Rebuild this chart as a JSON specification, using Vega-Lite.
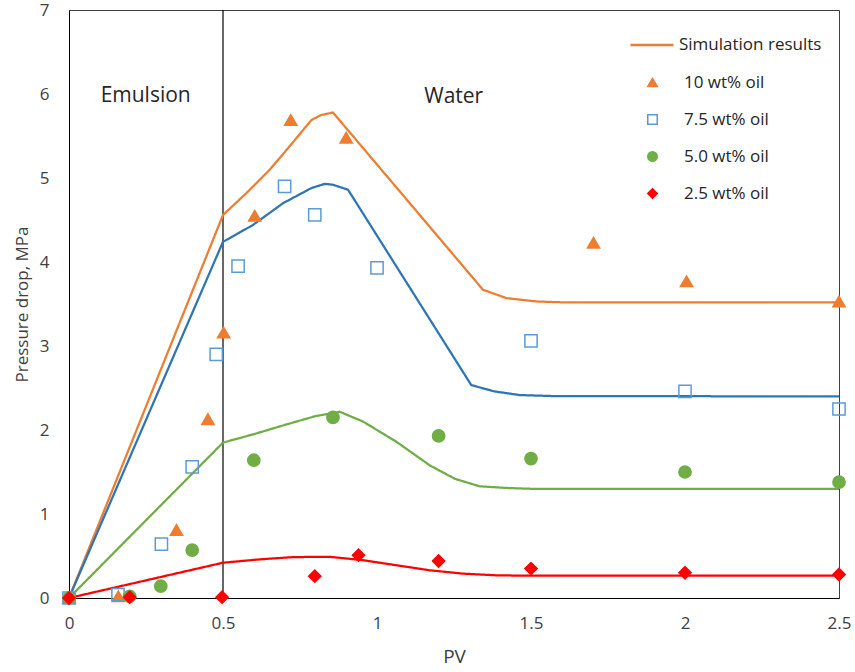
{
  "$schema": "https://vega.github.io/schema/vega-lite/v6.json",
  "width": 770,
  "height": 588,
  "autosize": "none",
  "padding": {"left": 69, "top": 10, "right": 16, "bottom": 74},
  "config": {
    "view": {"stroke": "#404040", "strokeWidth": 1},
    "font": "Open Sans",
    "axis": {
      "grid": false,
      "ticks": false,
      "tickSize": 0,
      "domainColor": "#000000",
      "domainWidth": 1,
      "labelFont": "Open Sans",
      "labelFontSize": 17,
      "labelColor": "#404040",
      "labelFlush": false,
      "titleFont": "Open Sans",
      "titleFontSize": 17,
      "titleFontWeight": "normal",
      "titleColor": "#404040"
    },
    "legend": {
      "labelFont": "Open Sans",
      "labelFontSize": 17,
      "labelColor": "#262626",
      "labelLimit": 400,
      "padding": 0
    }
  },
  "datasets": {
    "sim": [
      {"curve": "10", "PV": 0, "P": 0},
      {"curve": "10", "PV": 0.5, "P": 4.56},
      {"curve": "10", "PV": 0.576, "P": 4.82},
      {"curve": "10", "PV": 0.652, "P": 5.1},
      {"curve": "10", "PV": 0.717, "P": 5.38},
      {"curve": "10", "PV": 0.787, "P": 5.69},
      {"curve": "10", "PV": 0.819, "P": 5.75},
      {"curve": "10", "PV": 0.857, "P": 5.78},
      {"curve": "10", "PV": 1.171, "P": 4.42},
      {"curve": "10", "PV": 1.344, "P": 3.67},
      {"curve": "10", "PV": 1.42, "P": 3.57},
      {"curve": "10", "PV": 1.518, "P": 3.53},
      {"curve": "10", "PV": 1.6, "P": 3.52},
      {"curve": "10", "PV": 2.5, "P": 3.52},
      {"curve": "7.5", "PV": 0, "P": 0},
      {"curve": "7.5", "PV": 0.5, "P": 4.24},
      {"curve": "7.5", "PV": 0.597, "P": 4.44},
      {"curve": "7.5", "PV": 0.695, "P": 4.7},
      {"curve": "7.5", "PV": 0.787, "P": 4.88},
      {"curve": "7.5", "PV": 0.83, "P": 4.93},
      {"curve": "7.5", "PV": 0.857, "P": 4.92},
      {"curve": "7.5", "PV": 0.906, "P": 4.86},
      {"curve": "7.5", "PV": 1.306, "P": 2.535},
      {"curve": "7.5", "PV": 1.38, "P": 2.46},
      {"curve": "7.5", "PV": 1.463, "P": 2.416},
      {"curve": "7.5", "PV": 1.571, "P": 2.404},
      {"curve": "7.5", "PV": 2.5, "P": 2.4},
      {"curve": "5.0", "PV": 0, "P": 0},
      {"curve": "5.0", "PV": 0.5, "P": 1.85},
      {"curve": "5.0", "PV": 0.6, "P": 1.95},
      {"curve": "5.0", "PV": 0.7, "P": 2.06},
      {"curve": "5.0", "PV": 0.8, "P": 2.165},
      {"curve": "5.0", "PV": 0.879, "P": 2.217},
      {"curve": "5.0", "PV": 0.955, "P": 2.1},
      {"curve": "5.0", "PV": 1.063, "P": 1.86},
      {"curve": "5.0", "PV": 1.171, "P": 1.58},
      {"curve": "5.0", "PV": 1.252, "P": 1.42},
      {"curve": "5.0", "PV": 1.333, "P": 1.33},
      {"curve": "5.0", "PV": 1.42, "P": 1.31},
      {"curve": "5.0", "PV": 1.5, "P": 1.3},
      {"curve": "5.0", "PV": 2.5, "P": 1.3},
      {"curve": "2.5", "PV": 0, "P": 0},
      {"curve": "2.5", "PV": 0.5, "P": 0.42},
      {"curve": "2.5", "PV": 0.619, "P": 0.46},
      {"curve": "2.5", "PV": 0.72, "P": 0.485},
      {"curve": "2.5", "PV": 0.792, "P": 0.49},
      {"curve": "2.5", "PV": 0.847, "P": 0.49},
      {"curve": "2.5", "PV": 0.955, "P": 0.45},
      {"curve": "2.5", "PV": 1.063, "P": 0.39},
      {"curve": "2.5", "PV": 1.171, "P": 0.33},
      {"curve": "2.5", "PV": 1.279, "P": 0.29},
      {"curve": "2.5", "PV": 1.388, "P": 0.27},
      {"curve": "2.5", "PV": 1.5, "P": 0.265},
      {"curve": "2.5", "PV": 2.5, "P": 0.265}
    ],
    "exp": [
      {"series": "10 wt% oil", "PV": 0, "P": 0},
      {"series": "10 wt% oil", "PV": 0.16, "P": 0.02},
      {"series": "10 wt% oil", "PV": 0.349, "P": 0.81},
      {"series": "10 wt% oil", "PV": 0.451, "P": 2.13},
      {"series": "10 wt% oil", "PV": 0.502, "P": 3.16},
      {"series": "10 wt% oil", "PV": 0.603, "P": 4.55},
      {"series": "10 wt% oil", "PV": 0.72, "P": 5.69},
      {"series": "10 wt% oil", "PV": 0.9, "P": 5.48},
      {"series": "10 wt% oil", "PV": 1.703, "P": 4.23},
      {"series": "10 wt% oil", "PV": 2.005, "P": 3.77},
      {"series": "10 wt% oil", "PV": 2.5, "P": 3.53},
      {"series": "7.5 wt% oil", "PV": 0, "P": 0},
      {"series": "7.5 wt% oil", "PV": 0.159, "P": 0.04},
      {"series": "7.5 wt% oil", "PV": 0.3, "P": 0.64},
      {"series": "7.5 wt% oil", "PV": 0.4, "P": 1.56},
      {"series": "7.5 wt% oil", "PV": 0.478, "P": 2.9},
      {"series": "7.5 wt% oil", "PV": 0.549, "P": 3.95},
      {"series": "7.5 wt% oil", "PV": 0.7, "P": 4.9},
      {"series": "7.5 wt% oil", "PV": 0.798, "P": 4.56},
      {"series": "7.5 wt% oil", "PV": 1.0, "P": 3.93},
      {"series": "7.5 wt% oil", "PV": 1.5, "P": 3.06},
      {"series": "7.5 wt% oil", "PV": 2.0, "P": 2.46},
      {"series": "7.5 wt% oil", "PV": 2.5, "P": 2.25},
      {"series": "5.0 wt% oil", "PV": 0, "P": 0},
      {"series": "5.0 wt% oil", "PV": 0.197, "P": 0.02},
      {"series": "5.0 wt% oil", "PV": 0.298, "P": 0.14},
      {"series": "5.0 wt% oil", "PV": 0.4, "P": 0.57},
      {"series": "5.0 wt% oil", "PV": 0.6, "P": 1.64},
      {"series": "5.0 wt% oil", "PV": 0.857, "P": 2.15},
      {"series": "5.0 wt% oil", "PV": 1.2, "P": 1.93},
      {"series": "5.0 wt% oil", "PV": 1.5, "P": 1.66},
      {"series": "5.0 wt% oil", "PV": 2.0, "P": 1.5},
      {"series": "5.0 wt% oil", "PV": 2.5, "P": 1.38},
      {"series": "2.5 wt% oil", "PV": 0, "P": 0},
      {"series": "2.5 wt% oil", "PV": 0.197, "P": 0.01},
      {"series": "2.5 wt% oil", "PV": 0.497, "P": 0.01},
      {"series": "2.5 wt% oil", "PV": 0.798, "P": 0.26},
      {"series": "2.5 wt% oil", "PV": 0.94, "P": 0.51},
      {"series": "2.5 wt% oil", "PV": 1.2, "P": 0.44},
      {"series": "2.5 wt% oil", "PV": 1.5, "P": 0.35},
      {"series": "2.5 wt% oil", "PV": 2.0, "P": 0.3},
      {"series": "2.5 wt% oil", "PV": 2.5, "P": 0.28}
    ],
    "divider": [{"PV": 0.5}],
    "notes": [
      {"PV": 0.249, "P": 5.98, "label": "Emulsion"},
      {"PV": 1.249, "P": 5.97, "label": "Water"}
    ]
  },
  "layer": [
    {
      "data": {"name": "divider"},
      "mark": {"type": "rule", "color": "#000000", "strokeWidth": 1.2},
      "encoding": {
        "x": {"field": "PV", "type": "quantitative", "scale": {"domain": [0, 2.5]}}
      }
    },
    {
      "data": {"name": "notes"},
      "mark": {"type": "text", "font": "Open Sans", "fontSize": 21, "color": "#262626", "align": "center", "baseline": "middle"},
      "encoding": {
        "x": {"field": "PV", "type": "quantitative"},
        "y": {"field": "P", "type": "quantitative"},
        "text": {"field": "label"}
      }
    },
    {
      "data": {"name": "sim"},
      "transform": [{"calculate": "'Simulation results'", "as": "model"}],
      "mark": {"type": "line", "strokeWidth": 2.25, "interpolate": "linear", "clip": false},
      "encoding": {
        "x": {"field": "PV", "type": "quantitative"},
        "y": {"field": "P", "type": "quantitative"},
        "detail": {"field": "curve"},
        "color": {
          "field": "curve", "type": "nominal",
          "scale": {"domain": ["10", "7.5", "5.0", "2.5"], "range": ["#ED7D31", "#2E75B6", "#70AD47", "#FF0000"]},
          "legend": null
        },
        "strokeDash": {
          "field": "model", "type": "nominal",
          "scale": {"range": [[1, 0]]},
          "legend": {
            "title": null,
            "orient": "none",
            "legendX": 560,
            "legendY": 12,
            "symbolType": "stroke",
            "symbolSize": 1849,
            "symbolStrokeColor": "#ED7D31",
            "symbolStrokeWidth": 2.5,
            "labelOffset": 4
          }
        }
      }
    },
    {
      "data": {"name": "exp"},
      "mark": {"type": "point", "size": 150, "strokeWidth": 1.5, "opacity": 1, "clip": false},
      "encoding": {
        "x": {
          "field": "PV", "type": "quantitative",
          "scale": {"domain": [0, 2.5], "nice": false},
          "axis": {"values": [0, 0.5, 1, 1.5, 2, 2.5], "format": "~g", "labelPadding": 17, "title": "PV", "titleFontSize": 19, "titlePadding": 16}
        },
        "y": {
          "field": "P", "type": "quantitative",
          "scale": {"domain": [0, 7], "nice": false},
          "axis": {"values": [0, 1, 2, 3, 4, 5, 6, 7], "format": "d", "labelPadding": 20, "title": "Pressure drop, MPa", "titlePadding": 8}
        },
        "shape": {
          "field": "series", "type": "nominal",
          "scale": {"domain": ["10 wt% oil", "7.5 wt% oil", "5.0 wt% oil", "2.5 wt% oil"], "range": ["triangle-up", "square", "circle", "diamond"]},
          "legend": {
            "title": null,
            "orient": "none",
            "legendX": 575,
            "legendY": 64,
            "symbolSize": 90,
            "symbolStrokeWidth": 1.5,
            "labelOffset": 23,
            "rowPadding": 19
          }
        },
        "fill": {
          "field": "series", "type": "nominal",
          "scale": {"domain": ["10 wt% oil", "7.5 wt% oil", "5.0 wt% oil", "2.5 wt% oil"], "range": ["#ED7D31", "transparent", "#70AD47", "#FF0000"]}
        },
        "stroke": {
          "field": "series", "type": "nominal",
          "scale": {"domain": ["10 wt% oil", "7.5 wt% oil", "5.0 wt% oil", "2.5 wt% oil"], "range": ["#ED7D31", "#5B9BD5", "#70AD47", "#FF0000"]}
        }
      }
    }
  ]
}
